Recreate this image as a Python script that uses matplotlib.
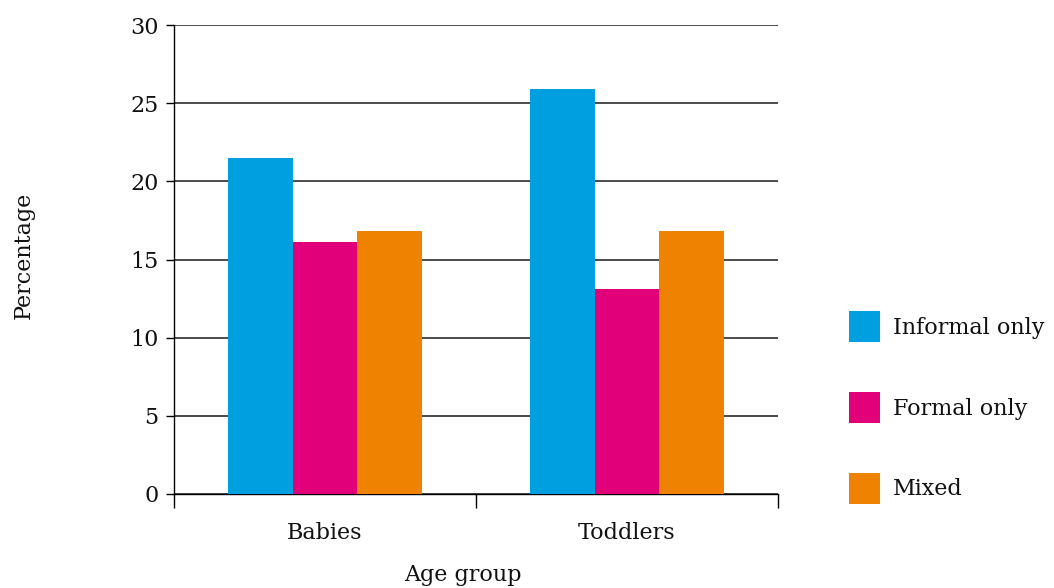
import matplotlib
matplotlib.use("Agg")
import matplotlib.pyplot as plt
from matplotlib.patches import Patch
import numpy as np

categories = ["Babies", "Toddlers"]
series_names = ["Informal only", "Formal only", "Mixed"]
informal = [21.5, 25.9]
formal = [16.1, 13.1]
mixed = [16.8, 16.8]
colors = ["#009FDF", "#E2007A", "#EF8200"]
yticks = [0, 5, 10, 15, 20, 25, 30]

plt.rcParams['font.family'] = ['DejaVu Serif']
FS = 16

fig = plt.figure(figsize=(10.54, 5.88), dpi=100)
ax = fig.add_axes([174/1054, 1-494/588, (778-174)/1054, (494-25)/588])

x = np.arange(len(categories))
w = 0.215
for i, (vals, c) in enumerate(zip([informal, formal, mixed], colors)):
    ax.bar(x + (i-1)*w, vals, width=w, color=c, zorder=3, linewidth=0)

ax.set_xlim(-0.5, 1.5)
ax.set_ylim(0, 30)
ax.set_yticks(yticks)
ax.set_yticklabels([str(t) for t in yticks], fontsize=FS)
ax.yaxis.grid(True, color="#1a1a1a", linewidth=1.1, zorder=1)
ax.set_axisbelow(True)
ax.tick_params(axis='y', length=6, width=1, pad=5, colors='black', labelcolor='#111111')

ax.set_xticks([-0.5, 0.5, 1.5])
ax.set_xticklabels([])
ax.tick_params(axis='x', which='major', length=10, width=1, direction='out')
ax.set_xticks(x, minor=True)
ax.set_xticklabels(categories, minor=True, fontsize=FS)
ax.tick_params(axis='x', which='minor', length=0, pad=20, labelcolor='#111111')

for s in ['top', 'right']:
    ax.spines[s].set_visible(False)
for s in ['left', 'bottom']:
    ax.spines[s].set_color('black')
    ax.spines[s].set_linewidth(1)

fig.text(463/1054, 1-575/588, "Age group", ha='center', va='center', fontsize=FS, color='#111111')
fig.text(24/1054, 1-255/588, "Percentage", ha='center', va='center', rotation=90, fontsize=FS, color='#111111')

handles = [Patch(facecolor=c, edgecolor='none') for c in colors]
leg = fig.legend(handles, series_names, loc='center left', bbox_to_anchor=(840/1054, 1-407.5/588),
                 frameon=False, fontsize=FS, handlelength=1.4, handleheight=1.75,
                 labelspacing=2.25, handletextpad=0.6, borderaxespad=0, labelcolor='#111111')

fig.savefig("out.png", dpi=100)
